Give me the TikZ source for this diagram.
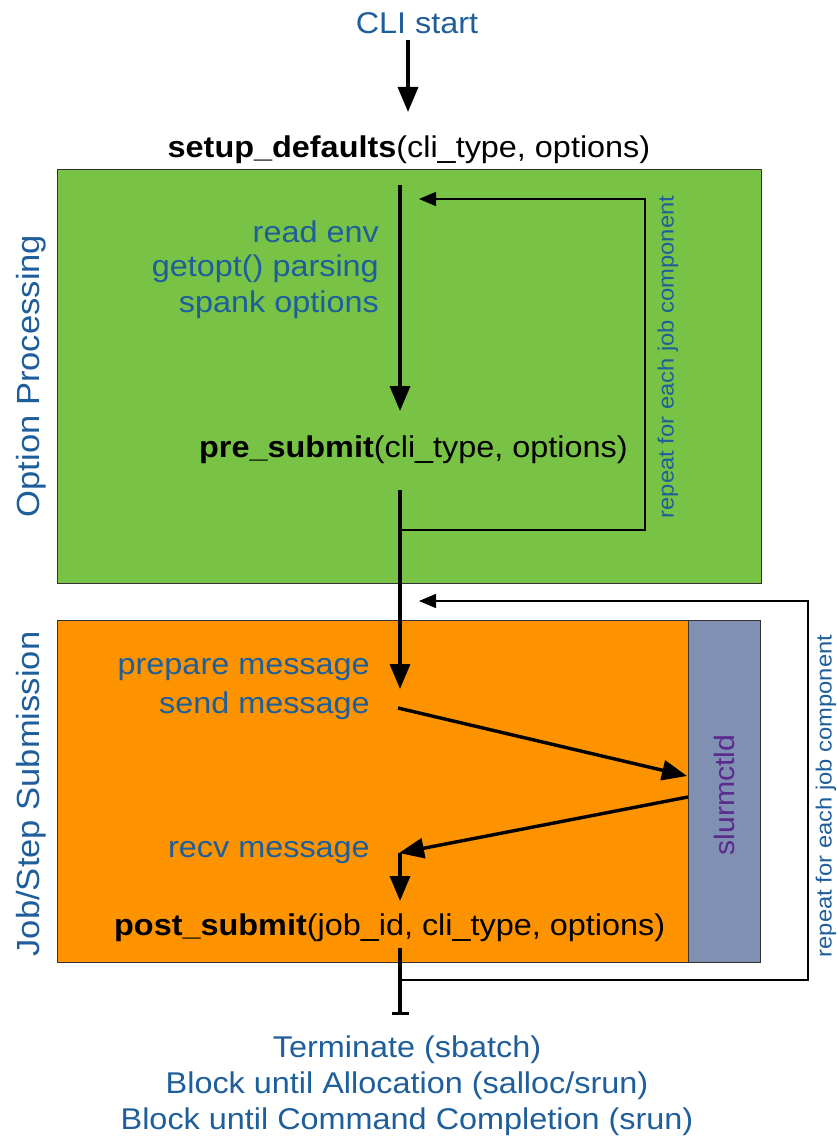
\documentclass[tikz,border=0pt]{standalone}
\usepackage{fontspec}
\setmainfont[FakeStretch=1.08]{Liberation Sans}
\usetikzlibrary{arrows.meta}
\definecolor{tblue}{HTML}{1E5E9A}
\definecolor{gfill}{HTML}{78C346}
\definecolor{ofill}{HTML}{FE9300}
\definecolor{sfill}{HTML}{7F90B3}
\definecolor{purp}{HTML}{5A2A8C}
\definecolor{edge}{HTML}{333333}
\tikzset{
  lbl/.style={font=\fontsize{30}{36}\selectfont, inner sep=0pt},
  side/.style={font=\fontsize{32}{36}\selectfont, inner sep=0pt, text=tblue, rotate=90},
  small/.style={font=\fontsize{22}{26}\selectfont, inner sep=0pt, text=tblue, rotate=90},
  flow/.style={line width=3.4pt, -{Triangle[width=20pt,length=25pt]}},
  loop/.style={line width=1.5pt, -{Triangle[width=14pt,length=17pt]}},
  panel/.style={draw=edge, line width=1.3pt, inner sep=0pt, anchor=north west},
}
\begin{document}
\begin{tikzpicture}[x=1pt,y=-1pt]
\useasboundingbox (0,0) rectangle (836,1139);
% panels
\node[panel, fill=gfill, minimum width=704pt, minimum height=414pt] (green) at (57,169) {};
\node[panel, fill=ofill, minimum width=631pt, minimum height=342pt] (orange) at (57,620) {};
\node[panel, fill=sfill, minimum width=72pt, minimum height=342pt] (slurm) at (688,620) {};
\node[font=\fontsize{28}{32}\selectfont, inner sep=0pt, text=purp, rotate=90] (slurmtxt) at (724,795) {slurmctld};
% side labels
\node[side] (optproc) at (31,376) {Option Processing};
\node[side] (jobsub) at (31,794) {Job/Step Submission};
% texts
\node[lbl, text=tblue] (cli) at (417,23) {CLI start};
\node[lbl] (setup) at (409,150) {\textbf{setup\_defaults}(cli\_type, options)};
\node[lbl, text=tblue, anchor=east] (env) at (379,232) {read env};
\node[lbl, text=tblue, anchor=east] (getopt) at (379,269) {getopt() parsing};
\node[lbl, text=tblue, anchor=east] (spank) at (379,305) {spank options};
\node[lbl, anchor=west] (pre) at (199,450) {\textbf{pre\_submit}(cli\_type, options)};
\node[small] (rep1) at (668,357) {repeat for each job component};
\node[small] (rep2) at (826,796) {repeat for each job component};
\node[lbl, text=tblue, anchor=east] (prep) at (370,670) {prepare message};
\node[lbl, text=tblue, anchor=east] (send) at (370,706) {send message};
\node[lbl, text=tblue, anchor=east] (recv) at (370,853) {recv message};
\node[lbl, anchor=west] (post) at (114,928) {\textbf{post\_submit}(job\_id, cli\_type, options)};
\node[lbl, text=tblue, align=center] (term) at (407,1086) {Terminate (sbatch)\\Block until Allocation (salloc/srun)\\Block until Command Completion (srun)};
% coordinates
\coordinate (a0) at (408,40);
\coordinate (a1) at (408,112);
\coordinate (b0) at (400,185);
\coordinate (b1) at (400,411);
\coordinate (c0) at (400,490);
\coordinate (c1) at (400,689);
\coordinate (l1a) at (400,530);
\coordinate (l1b) at (645,530);
\coordinate (l1c) at (645,199);
\coordinate (l1d) at (419,199);
\coordinate (l2a) at (400,980);
\coordinate (l2b) at (808,980);
\coordinate (l2c) at (808,601);
\coordinate (l2d) at (419,601);
\coordinate (s0) at (398,708);
\coordinate (s1) at (687,776);
\coordinate (r0) at (688,797);
\coordinate (r1) at (399,853);
\coordinate (r2) at (400,853);
\coordinate (r3) at (400,901);
\coordinate (t0) at (400,948);
\coordinate (t1) at (400,1015);
% connectors
\draw[flow] (a0) -- (a1);
\draw[flow] (b0) -- (b1);
\draw[flow] (c0) -- (c1);
\draw[loop] (l1a) -- (l1b) -- (l1c) -- (l1d);
\draw[loop] (l2a) -- (l2b) -- (l2c) -- (l2d);
\draw[flow] (s0) -- (s1);
\draw[flow] (r0) -- (r1);
\draw[flow] (r2) -- (r3);
\draw[line width=3.4pt, -{Bar[width=17pt,line width=3pt]}] (t0) -- (t1);
\end{tikzpicture}
\end{document}
